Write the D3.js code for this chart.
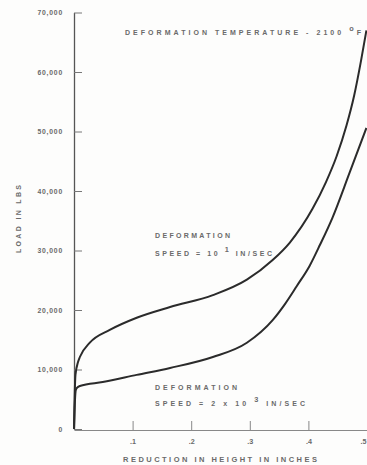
<!DOCTYPE html>
<html>
<head>
<meta charset="utf-8">
<script src="https://cdn.jsdelivr.net/npm/d3@7"></script>
<style>
  html, body { margin: 0; padding: 0; background: #fdfdfc; }
  svg { display: block; }
  text { font-family: "Liberation Sans", "DejaVu Sans", sans-serif; font-weight: bold; fill: #6a6a6a; }
</style>
</head>
<body>
<svg id="chart" width="367" height="465"></svg>
<script>
// Reduction in height (inches) vs. load (lbs)
const fastReduction = [0, 0.001, 0.0025, 0.007, 0.010, 0.027, 0.061, 0.107, 0.164, 0.237, 0.295, 0.339, 0.368, 0.407, 0.430, 0.448, 0.465, 0.478, 0.490, 0.499];
const fastLoad      = [0, 4900, 9100, 11300, 12100, 14500, 16650, 18700, 20500, 22500, 25100, 28400, 31300, 37000, 41500, 45800, 51000, 56000, 62000, 67000];

const slowReduction = [0, 0.0017, 0.003, 0.005, 0.010, 0.049, 0.107, 0.164, 0.237, 0.295, 0.339, 0.360, 0.380, 0.402, 0.420, 0.441, 0.470, 0.499];
const slowLoad      = [0, 4900, 6500, 6900, 7230, 7900, 9100, 10260, 12100, 14500, 18300, 21000, 24000, 27400, 31000, 35500, 43000, 50600];

const loadTicks = [0, 10000, 20000, 30000, 40000, 50000, 60000, 70000];
const reductionTicks = [0.1, 0.2, 0.3, 0.4, 0.5];

const svg = d3.select("#chart");
const x = d3.scaleLinear().domain([0, 0.5]).range([74, 367]);
const y = d3.scaleLinear().domain([0, 70000]).range([429, 12.5]);

// Y axis with inward ticks
const yAxis = d3.axisLeft(y)
  .tickValues(loadTicks)
  .tickSizeInner(-8)
  .tickSizeOuter(0)
  .tickPadding(11)
  .tickFormat(d => d === 0 ? "0" : d3.format(",")(d));
const gy = svg.append("g").attr("transform", `translate(${x(0)},0)`).call(yAxis);
gy.select(".domain").attr("stroke", "#555").attr("stroke-width", 1.3);
gy.selectAll(".tick line").attr("stroke", "#777").attr("stroke-width", 1);
gy.selectAll(".tick text")
  .attr("font-size", 6.8)
  .attr("letter-spacing", 0.8)
  .attr("fill", "#777");

// X axis with upward ticks
const xAxis = d3.axisBottom(x)
  .tickValues(reductionTicks)
  .tickSizeInner(-9)
  .tickSizeOuter(0)
  .tickPadding(9)
  .tickFormat(d => d3.format(".1f")(d).replace(/^0/, ""));
const gx = svg.append("g").attr("transform", `translate(0,${y(0) + 1})`).call(xAxis);
gx.select(".domain").attr("stroke", "#888").attr("stroke-width", 1.2);
gx.selectAll(".tick line").attr("stroke", "#888").attr("stroke-width", 1);
gx.selectAll(".tick text").attr("font-size", 7.2).attr("fill", "#666");
// keep the last tick label inside the page edge
gx.selectAll(".tick text").filter(d => d === 0.5).attr("text-anchor", "end").attr("dx", -1);

// Curves
const line = d3.line()
  .x(d => x(d[0]))
  .y(d => y(d[1]))
  .curve(d3.curveMonotoneX);

const fast = fastReduction.map((r, i) => [r, fastLoad[i]]);
const slow = slowReduction.map((r, i) => [r, slowLoad[i]]);

svg.append("path").datum(fast).attr("d", line)
  .attr("fill", "none").attr("stroke", "#2b2b2b").attr("stroke-width", 2);
svg.append("path").datum(slow).attr("d", line)
  .attr("fill", "none").attr("stroke", "#2b2b2b").attr("stroke-width", 2);

// Labels
function label(tx, ty, width, parts, size) {
  const fs = size || 7;
  const t = svg.append("text")
    .attr("x", tx).attr("y", ty)
    .attr("font-size", fs)
    .attr("textLength", width)
    .attr("lengthAdjust", "spacing");
  parts.forEach(p => {
    const s = t.append("tspan").text(p.text);
    if (p.sup) s.attr("baseline-shift", "super").attr("font-size", fs * 1.05);
  });
  return t;
}

label(125, 35, 236, [{text: "DEFORMATION TEMPERATURE - 2100 "}, {text: "o", sup: true}, {text: "F"}]);
label(155, 238, 75, [{text: "DEFORMATION"}]);
label(155, 256, 117, [{text: "SPEED = 10 "}, {text: "1", sup: true}, {text: " IN/SEC"}]);
label(155, 390, 82, [{text: "DEFORMATION"}]);
label(155, 406, 150, [{text: "SPEED = 2 x 10 "}, {text: "3", sup: true}, {text: " IN/SEC"}]);
label(123, 462, 194, [{text: "REDUCTION IN HEIGHT IN INCHES"}], 7.5);

svg.append("text")
  .attr("transform", "translate(21,219) rotate(-90)")
  .attr("text-anchor", "middle")
  .attr("font-size", 7)
  .attr("textLength", 68)
  .attr("lengthAdjust", "spacing")
  .attr("fill", "#6a6a6a")
  .text("LOAD IN LBS");
</script>
</body>
</html>
